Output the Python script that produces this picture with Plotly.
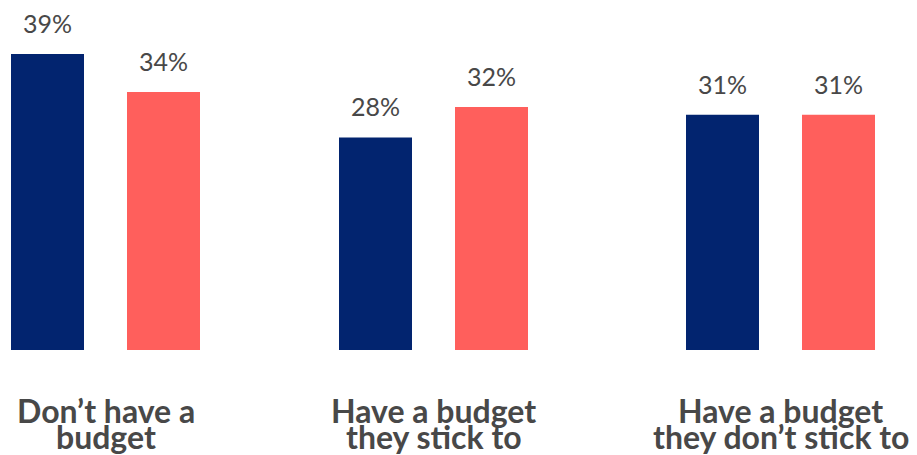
import plotly.graph_objects as go

# ---- data ----
categories = ["Don’t have a budget", "Have a budget they stick to", "Have a budget they don’t stick to"]
label_lines = [["Don’t have a", "budget"], ["Have a budget", "they stick to"], ["Have a budget", "they don’t stick to"]]
series_names = ["Group A", "Group B"]
blue_values = [39, 28, 31]
red_values = [34, 32, 31]

# ---- style / layout constants ----
PAGE_OFFSET = 8                    # default body margin of the html page
W, H = 917 - PAGE_OFFSET, 455 - PAGE_OFFSET
BLUE = "#02246F"
RED = "#FF5F5C"
TEXT = "#484848"
FONT = "Lato"
unit_px = 337.5                    # pixels per category unit
centers_px = [105.5 - PAGE_OFFSET, 433.5 - PAGE_OFFSET, 780.5 - PAGE_OFFSET]
px_per_pct = 7.59
plot_h = 350 - PAGE_OFFSET
bar_offset_px = 58

fig = go.Figure()
axis_names = ["x", "x2", "x3"]
for i, cat in enumerate(categories):
    ax = axis_names[i]
    fig.add_bar(x=[cat], y=[blue_values[i]], name=series_names[0], xaxis=ax, yaxis="y",
                marker=dict(color=BLUE, line=dict(width=0)), showlegend=False, hoverinfo="skip")
    fig.add_bar(x=[cat], y=[red_values[i]], name=series_names[1], xaxis=ax, yaxis="y",
                marker=dict(color=RED, line=dict(width=0)), showlegend=False, hoverinfo="skip")

annotations = []
for i, cat in enumerate(categories):
    ax = axis_names[i]
    for v, sh in ((blue_values[i], -bar_offset_px), (red_values[i], bar_offset_px)):
        annotations.append(dict(xref=ax, yref="y", x=cat, y=v, text=f"{v}%", showarrow=False,
                                xshift=sh, yshift=14, yanchor="bottom",
                                font=dict(family=FONT, size=25, color=TEXT)))
    for j, line in enumerate(label_lines[i]):
        annotations.append(dict(xref=ax, yref="paper", x=cat, y=0, text=f"<b>{line}</b>", showarrow=False,
                                yanchor="middle", yshift=-60 - 26.5 * j, borderpad=0,
                                font=dict(family=FONT, size=32, color=TEXT)))

layout_axes = {}
for i, ax in enumerate(axis_names):
    key = "xaxis" if i == 0 else f"xaxis{i+1}"
    c = centers_px[i]
    cfg = dict(type="category", range=[-c / unit_px, (W - c) / unit_px], domain=[0, 1],
               showticklabels=False, showgrid=False, zeroline=False, showline=False, ticks="",
               anchor="y", fixedrange=True)
    if i > 0:
        cfg["overlaying"] = "x"
    layout_axes[key] = cfg

fig.update_layout(
    width=W, height=H,
    margin=dict(l=0, r=0, t=0, b=H - plot_h, pad=0),
    paper_bgcolor="white", plot_bgcolor="white",
    barmode="group", bargap=1 - 232 / unit_px, bargroupgap=1 - 73 / 116,
    yaxis=dict(range=[0, plot_h / px_per_pct], visible=False, fixedrange=True),
    annotations=annotations,
    font=dict(family=FONT, color=TEXT),
    **layout_axes,
)

fig.write_html("out.html")
